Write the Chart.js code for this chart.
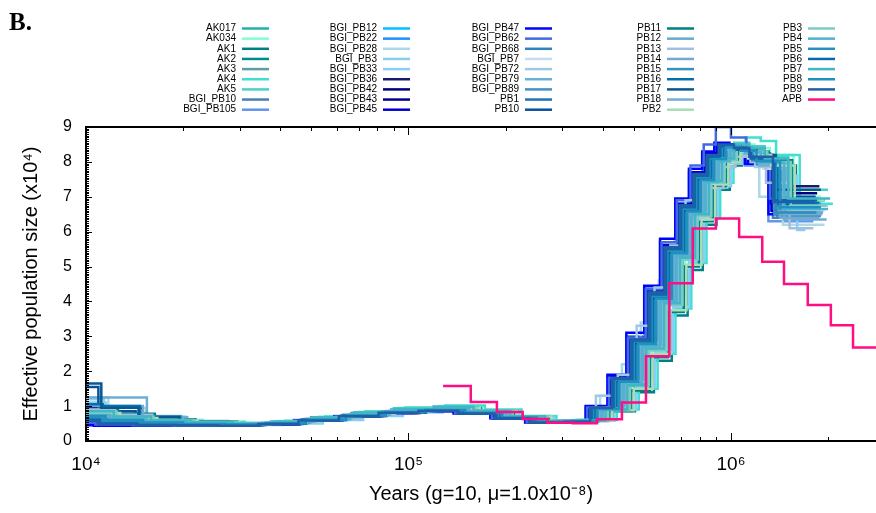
<!DOCTYPE html>
<html>
<head>
<meta charset="utf-8">
<script src="https://cdn.jsdelivr.net/npm/chart.js@4.4.1/dist/chart.umd.min.js"></script>
<style>
  html, body { margin: 0; padding: 0; background: #fff; }
  canvas { display: block; }
</style>
</head>
<body>
<canvas id="psmc" width="876" height="513"></canvas>
<script>
'use strict';

// sample names, in legend order (gnuplot draws later ones on top)
const names = [
  'AK017', 'AK034', 'AK1', 'AK2', 'AK3', 'AK4', 'AK5', 'BGI_PB10', 'BGI_PB105',
  'BGI_PB12', 'BGI_PB22', 'BGI_PB28', 'BGI_PB3', 'BGI_PB33', 'BGI_PB36', 'BGI_PB42', 'BGI_PB43', 'BGI_PB45',
  'BGI_PB47', 'BGI_PB62', 'BGI_PB68', 'BGI_PB7', 'BGI_PB72', 'BGI_PB79', 'BGI_PB89', 'PB1', 'PB10',
  'PB11', 'PB12', 'PB13', 'PB14', 'PB15', 'PB16', 'PB17', 'PB18', 'PB2',
  'PB3', 'PB4', 'PB5', 'PB6', 'PB7', 'PB8', 'PB9', 'APB'
];

const colors = [
  '#20b2aa', '#7fffd4', '#008080', '#008b8b', '#5f9ea0', '#40e0d0', '#48d1cc', '#4682b4', '#6495ed',
  '#00bfff', '#1e90ff', '#add8e6', '#87ceeb', '#87cefa', '#191970', '#000080', '#00008b', '#0000cd',
  '#0000ff', '#4169e1', '#3182bd', '#c6dbef', '#9ecae1', '#6baed6', '#4292c6', '#2171b5', '#08519c',
  '#027f80', '#67a9cf', '#a6bddb', '#74a9cf', '#3690c0', '#0570b0', '#045a8d', '#74add1', '#a8ddb5',
  '#7bccc4', '#4eb3d3', '#2b8cbe', '#0868ac', '#41b6c4', '#1d91c0', '#225ea8', '#ff0d84'
];

// left edges of the PSMC time intervals (years), before per-sample scaling
const gridYears = [6000, 11500, 15000, 20000, 27000, 36000, 48000, 64000, 85000, 113000, 150000, 195000, 250000,
  320000, 385000, 450000, 515000, 585000, 655000, 730000, 805000, 885000, 965000, 1075000, 1200000, 1420000];

// per-sample time scaling and last time point
const shifts = [1.04, 1.10, 1.12, 1.08, 0.98, 1.15, 1.06, 0.95, 0.92,
  0.97, 0.93, 1.02, 1.00, 1.13, 0.96, 1.00, 0.94, 0.94,
  0.92, 0.93, 1.01, 1.05, 0.99, 1.03, 0.96, 0.98, 0.95,
  1.09, 1.04, 1.07, 1.00, 0.99, 0.98, 0.97, 1.02, 1.11,
  1.08, 1.03, 0.97, 0.96, 1.06, 1.00, 0.95];
const ends = [1.95e6, 1.90e6, 1.85e6, 1.80e6, 1.75e6, 2.07e6, 2.00e6, 1.85e6, 1.80e6,
  1.95e6, 1.90e6, 1.95e6, 2.00e6, 1.70e6, 1.88e6, 1.85e6, 1.80e6, 1.78e6,
  1.75e6, 1.85e6, 1.90e6, 1.95e6, 1.92e6, 1.98e6, 1.82e6, 1.87e6, 1.83e6,
  1.88e6, 1.93e6, 1.80e6, 1.88e6, 1.90e6, 1.86e6, 1.90e6, 1.92e6, 1.95e6,
  1.97e6, 2.00e6, 1.84e6, 1.85e6, 2.03e6, 1.90e6, 1.82e6];

// effective population size (x10^4) in each interval
const neValues = [
  [0.70,0.60,0.55,0.52,0.50,0.56,0.68,0.80,0.90,0.96,0.86,0.70,0.57,0.60,0.90,1.55,2.60,3.90,5.20,6.50,7.50,8.10,8.45,8.35,8.10,6.90],
  [0.90,0.72,0.60,0.55,0.50,0.57,0.70,0.84,0.95,1.00,0.88,0.72,0.58,0.62,0.98,1.80,2.90,4.20,5.50,6.70,7.60,8.20,8.50,8.40,8.20,7.00],
  [0.60,0.55,0.52,0.50,0.48,0.54,0.66,0.80,0.90,0.95,0.85,0.70,0.56,0.58,0.85,1.40,2.30,3.60,4.90,6.20,7.20,7.90,8.30,8.20,7.90,6.50],
  [0.75,0.62,0.55,0.50,0.47,0.52,0.64,0.78,0.88,0.93,0.84,0.69,0.55,0.57,0.88,1.60,2.70,4.10,5.40,6.60,7.50,8.10,8.40,8.30,8.00,6.60],
  [1.00,0.75,0.60,0.52,0.48,0.52,0.62,0.75,0.85,0.90,0.82,0.68,0.56,0.58,0.95,1.75,2.80,4.10,5.40,6.60,7.50,8.05,8.35,8.25,7.95,6.40],
  [0.85,0.70,0.60,0.55,0.52,0.58,0.70,0.85,0.96,1.02,0.90,0.72,0.58,0.60,0.90,1.50,2.50,3.80,5.10,6.40,7.40,8.20,8.70,8.60,8.20,6.80],
  [0.80,0.68,0.58,0.53,0.50,0.56,0.68,0.82,0.94,0.99,0.88,0.71,0.57,0.59,0.92,1.65,2.75,4.00,5.30,6.50,7.45,8.15,8.55,8.45,8.15,7.20],
  [0.60,0.50,0.47,0.45,0.44,0.48,0.58,0.70,0.80,0.86,0.78,0.64,0.53,0.55,0.90,1.70,2.85,4.20,5.50,6.70,7.60,8.15,8.45,8.30,8.00,6.40],
  [0.55,0.50,0.48,0.46,0.45,0.50,0.60,0.72,0.82,0.88,0.80,0.66,0.54,0.56,0.95,1.85,3.00,4.40,5.70,6.80,7.70,8.20,8.45,8.30,7.90,6.30],
  [0.65,0.55,0.50,0.48,0.46,0.51,0.61,0.73,0.83,0.89,0.81,0.67,0.55,0.57,0.92,1.70,2.75,4.05,5.35,6.55,7.45,8.05,8.40,8.30,8.00,6.90],
  [0.50,0.47,0.45,0.44,0.44,0.49,0.59,0.71,0.81,0.87,0.80,0.66,0.54,0.56,0.95,1.80,2.95,4.30,5.60,6.75,7.65,8.20,8.50,8.40,8.05,6.80],
  [1.25,0.95,0.70,0.58,0.50,0.54,0.64,0.76,0.86,0.92,0.84,0.70,0.57,0.60,1.30,2.20,3.40,4.60,5.80,6.80,7.50,7.90,8.10,7.95,7.00,6.20],
  [1.10,0.80,0.62,0.55,0.50,0.54,0.64,0.76,0.86,0.91,0.83,0.68,0.56,0.58,0.94,1.72,2.78,4.08,5.36,6.55,7.45,8.05,8.40,8.28,7.98,6.75],
  [0.70,0.60,0.52,0.48,0.46,0.50,0.60,0.72,0.82,0.88,0.80,0.66,0.55,0.58,0.90,1.55,2.55,3.85,5.15,6.40,7.30,7.95,8.25,8.10,7.60,6.05],
  [0.55,0.48,0.46,0.45,0.44,0.48,0.58,0.70,0.80,0.86,0.79,0.65,0.53,0.55,0.92,1.75,2.85,4.15,5.45,6.65,7.55,8.10,8.40,8.35,8.15,7.30],
  [0.95,0.95,0.62,0.50,0.46,0.50,0.60,0.72,0.82,0.88,0.80,0.66,0.54,0.56,0.93,1.72,2.80,4.10,5.40,6.60,7.50,8.10,8.45,8.35,8.05,7.10],
  [0.50,0.46,0.45,0.44,0.44,0.49,0.59,0.71,0.81,0.87,0.79,0.65,0.53,0.55,0.95,1.80,2.95,4.30,5.60,6.75,7.65,8.20,8.50,8.35,8.00,6.85],
  [0.48,0.45,0.44,0.44,0.44,0.49,0.58,0.70,0.80,0.86,0.79,0.65,0.53,0.56,0.96,1.82,2.95,4.30,5.60,6.80,7.70,8.25,8.50,8.40,8.00,6.60],
  [0.45,0.44,0.44,0.44,0.44,0.49,0.58,0.70,0.80,0.86,0.79,0.65,0.53,0.57,1.00,1.90,3.10,4.45,5.80,6.95,7.80,8.30,8.55,8.40,7.95,6.50],
  [0.52,0.47,0.45,0.44,0.44,0.49,0.59,0.71,0.81,0.87,0.79,0.65,0.53,0.56,0.96,1.80,2.95,4.35,5.70,6.90,7.90,8.50,9.00,8.70,8.25,6.95],
  [0.85,0.68,0.56,0.50,0.47,0.51,0.61,0.73,0.83,0.89,0.81,0.67,0.55,0.57,0.90,1.65,2.70,4.00,5.30,6.50,7.40,8.00,8.35,8.25,7.95,6.45],
  [0.75,0.65,0.58,0.54,0.50,0.55,0.65,0.77,0.87,0.93,0.85,0.70,0.57,0.60,0.95,1.70,2.80,4.00,5.20,6.40,7.35,7.95,8.25,8.10,7.80,6.60],
  [1.20,0.72,0.72,0.56,0.50,0.53,0.63,0.75,0.85,0.91,0.83,0.69,0.56,0.58,1.30,1.90,3.30,4.40,5.60,6.90,7.60,8.10,8.35,8.20,7.85,6.55],
  [1.25,1.25,0.68,0.56,0.50,0.54,0.64,0.76,0.86,0.92,0.84,0.69,0.56,0.59,0.93,1.65,2.70,4.00,5.30,6.45,7.40,8.00,8.35,8.25,7.95,6.35],
  [0.70,0.58,0.52,0.48,0.46,0.50,0.60,0.72,0.82,0.88,0.80,0.66,0.54,0.56,0.96,1.80,2.90,4.25,5.55,6.70,7.60,8.15,8.45,8.30,8.00,6.50],
  [0.62,0.52,0.48,0.46,0.45,0.49,0.59,0.71,0.81,0.87,0.79,0.65,0.53,0.55,0.93,1.75,2.85,4.15,5.45,6.60,7.50,8.10,8.45,8.35,8.10,6.75],
  [1.55,0.85,0.60,0.48,0.45,0.49,0.59,0.71,0.81,0.87,0.79,0.65,0.53,0.55,0.95,1.80,2.90,4.25,5.55,6.75,7.60,8.15,8.45,8.40,8.20,7.00],
  [0.90,0.78,0.62,0.55,0.50,0.55,0.67,0.81,0.91,0.96,0.86,0.70,0.57,0.59,0.86,1.45,2.40,3.70,5.00,6.30,7.30,8.00,8.35,8.30,8.05,6.85],
  [0.80,0.68,0.57,0.52,0.48,0.53,0.63,0.75,0.85,0.91,0.83,0.69,0.56,0.58,0.92,1.68,2.72,4.02,5.32,6.52,7.42,8.02,8.38,8.28,7.98,6.55],
  [0.90,0.75,0.60,0.54,0.50,0.54,0.64,0.76,0.86,0.92,0.84,0.69,0.56,0.60,0.95,1.70,2.70,3.95,5.20,6.35,7.25,7.85,8.15,8.00,7.40,6.10],
  [1.00,1.00,0.66,0.52,0.48,0.52,0.62,0.74,0.84,0.90,0.82,0.68,0.55,0.57,0.93,1.70,2.75,4.05,5.35,6.55,7.45,8.05,8.40,8.30,8.00,6.40],
  [0.75,0.62,0.54,0.50,0.47,0.51,0.61,0.73,0.83,0.89,0.81,0.67,0.55,0.57,0.92,1.72,2.80,4.10,5.40,6.60,7.50,8.10,8.45,8.35,8.05,6.65],
  [1.05,1.00,0.70,0.52,0.47,0.51,0.61,0.73,0.83,0.89,0.81,0.67,0.55,0.57,0.94,1.75,2.85,4.15,5.45,6.65,7.55,8.10,8.45,8.35,8.10,6.80],
  [1.65,0.95,0.68,0.50,0.46,0.50,0.60,0.72,0.82,0.88,0.80,0.66,0.54,0.56,0.92,1.72,2.80,4.10,5.40,6.60,7.50,8.10,8.45,8.40,8.20,7.20],
  [0.85,0.70,0.58,0.53,0.49,0.53,0.63,0.75,0.85,0.91,0.83,0.69,0.56,0.58,0.93,1.70,2.75,4.05,5.30,6.50,7.40,8.00,8.35,8.25,7.90,6.50],
  [0.80,0.66,0.58,0.53,0.49,0.55,0.67,0.80,0.90,0.95,0.86,0.70,0.57,0.59,0.88,1.50,2.50,3.75,5.05,6.35,7.35,8.00,8.30,8.20,7.90,6.90],
  [0.85,0.70,0.60,0.54,0.50,0.56,0.68,0.82,0.92,0.97,0.87,0.71,0.57,0.59,0.90,1.60,2.60,3.90,5.20,6.45,7.40,8.05,8.40,8.30,8.00,6.75],
  [0.75,0.64,0.56,0.51,0.48,0.53,0.63,0.76,0.86,0.91,0.83,0.68,0.56,0.58,0.92,1.68,2.72,4.02,5.32,6.52,7.42,8.02,8.38,8.28,7.98,6.65],
  [0.68,0.56,0.50,0.47,0.45,0.50,0.60,0.72,0.82,0.88,0.80,0.66,0.54,0.56,0.93,1.75,2.85,4.15,5.45,6.65,7.55,8.10,8.45,8.35,8.05,6.55],
  [0.60,0.50,0.46,0.45,0.44,0.49,0.59,0.71,0.81,0.87,0.79,0.65,0.53,0.55,0.94,1.78,2.88,4.20,5.50,6.70,7.60,8.15,8.45,8.35,8.10,6.90],
  [0.85,0.70,0.59,0.54,0.50,0.56,0.68,0.82,0.92,0.98,0.87,0.71,0.57,0.59,0.90,1.60,2.65,3.95,5.25,6.50,7.45,8.10,8.50,8.40,8.10,6.95],
  [0.72,0.60,0.53,0.49,0.47,0.51,0.61,0.73,0.83,0.89,0.81,0.67,0.55,0.57,0.92,1.70,2.78,4.08,5.38,6.58,7.48,8.08,8.42,8.32,8.02,6.70],
  [0.58,0.49,0.46,0.45,0.44,0.49,0.59,0.71,0.81,0.87,0.79,0.65,0.53,0.55,0.95,1.80,2.90,4.25,5.55,6.75,7.65,8.20,8.50,8.40,8.15,6.85]
];

// APB has its own time points (last entry is the right end)
const apbYears = [128000, 156000, 188000, 226000, 270000, 323000, 384000, 459000, 545000, 644000, 761000,
  898000, 1060000, 1250000, 1460000, 1730000, 2040000, 2390000, 3000000];
const apbNe = [1.58, 1.12, 0.83, 0.63, 0.52, 0.51, 0.62, 1.10, 2.43, 4.52, 6.09,
  6.38, 5.85, 5.14, 4.50, 3.90, 3.32, 2.68, 2.68];

const xMajor = [1e4, 1e5, 1e6];
const SUP = { '4': '\u2074', '5': '\u2075', '6': '\u2076' };
const FONT = "'Liberation Sans', Arial, sans-serif";

function seriesPoints(i) {
  if (names[i] === 'APB') return apbYears.map((t, k) => ({ x: t, y: apbNe[k] }));
  const vals = neValues[i];
  const pts = gridYears.map((t, k) => ({ x: t * shifts[i], y: vals[k] }));
  pts.push({ x: ends[i], y: vals[vals.length - 1] });
  return pts;
}

const datasets = names.map((n, i) => ({
  label: n,
  data: seriesPoints(i),
  borderColor: colors[i],
  backgroundColor: colors[i],
  borderWidth: 2.5,
  stepped: 'before',
  pointRadius: 0,
  fill: false,
  order: names.length - i
}));

// inward ticks, top border line, legend and panel letter
const decor = {
  id: 'decor',
  afterDatasetsDraw(chart) {
    const { ctx, chartArea: a, scales: { x, y } } = chart;
    ctx.save();
    ctx.strokeStyle = '#000';
    ctx.lineWidth = 2;
    ctx.beginPath();
    ctx.moveTo(a.left, a.top); ctx.lineTo(a.right, a.top);
    ctx.stroke();
    ctx.lineWidth = 1;
    ctx.beginPath();
    for (let k = 4; k <= 6; k++) {
      for (let m = 1; m <= 9; m++) {
        const v = m * Math.pow(10, k);
        if (v < x.min || v > x.max) continue;
        const px = Math.round(x.getPixelForValue(v)) + 0.5;
        const len = m === 1 ? 8 : 4;
        ctx.moveTo(px, a.bottom); ctx.lineTo(px, a.bottom - len);
        ctx.moveTo(px, a.top); ctx.lineTo(px, a.top + len);
      }
    }
    for (let s = 0; s <= 180; s++) {
      const py = Math.round(y.getPixelForValue(s / 20)) + 0.5;
      const len = s % 20 === 0 ? 6 : 3;
      ctx.moveTo(a.left, py); ctx.lineTo(a.left + len, py);
    }
    ctx.stroke();
    ctx.restore();
  },
  afterDraw(chart) {
    const { ctx } = chart;
    const colRight = [236, 377, 519, 661, 802];
    ctx.save();
    ctx.font = '10px ' + FONT;
    ctx.textAlign = 'right';
    ctx.textBaseline = 'middle';
    chart.data.datasets.forEach((ds, i) => {
      const xr = colRight[Math.floor(i / 9)];
      const yy = 28.5 + (i % 9) * 10.15;
      ctx.fillStyle = '#000';
      ctx.fillText(ds.label, xr, yy);
      ctx.strokeStyle = ds.borderColor;
      ctx.lineWidth = 2.5;
      ctx.beginPath();
      ctx.moveTo(xr + 6, yy); ctx.lineTo(xr + 33, yy);
      ctx.stroke();
    });
    ctx.fillStyle = '#000';
    ctx.textAlign = 'left';
    ctx.textBaseline = 'alphabetic';
    ctx.font = "bold 25px 'Liberation Serif', 'Times New Roman', serif";
    ctx.fillText('B.', 9, 30);
    ctx.restore();
  }
};

Chart.defaults.font.family = FONT;
Chart.defaults.color = '#000';

new Chart(document.getElementById('psmc').getContext('2d'), {
  type: 'line',
  data: { datasets },
  options: {
    responsive: false,
    animation: false,
    layout: { padding: { top: 127, left: 0, right: 0, bottom: 0 } },
    plugins: { legend: { display: false }, tooltip: { enabled: false } },
    scales: {
      x: {
        type: 'logarithmic',
        position: 'bottom',
        min: 1e4,
        max: 2.816e6,
        afterFit: s => { s.height = 72; },
        afterBuildTicks: s => { s.ticks = xMajor.map(v => ({ value: v })); },
        grid: { display: false, drawTicks: false },
        border: { display: true, color: '#000', width: 2 },
        ticks: {
          autoSkip: false, maxRotation: 0, padding: 12,
          font: { size: 19 },
          callback: v => '10' + SUP[String(Math.round(Math.log10(v)))]
        },
        title: {
          display: true,
          text: 'Years (g=10, \u03bc=1.0x10\u207b\u2078)',
          font: { size: 20 },
          padding: { top: 0, bottom: 7 }
        }
      },
      y: {
        min: 0,
        max: 9,
        afterFit: s => { s.width = 86; },
        grid: { display: false, drawTicks: false },
        border: { display: true, color: '#000', width: 2 },
        ticks: { stepSize: 1, padding: 14, font: { size: 16 } },
        title: {
          display: true,
          text: 'Effective population size (x10\u2074)',
          font: { size: 20 },
          padding: { top: 19, bottom: 0 }
        }
      }
    }
  },
  plugins: [decor]
});
</script>
</body>
</html>
